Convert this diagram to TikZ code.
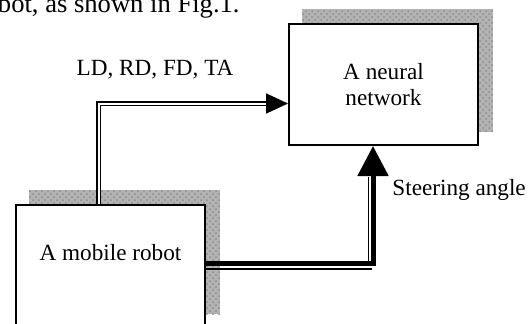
\documentclass[tikz,border=0pt]{standalone}
\usepackage{fontspec}
\setmainfont{Liberation Serif}
\usetikzlibrary{arrows.meta,calc,patterns}
\begin{document}
\begin{tikzpicture}[x=0.5pt,y=-0.5pt,
  box/.style={draw=black,line width=1pt,fill=white,rectangle,inner sep=0pt},
  shadowfill/.style={fill=black!30},
  shadowtex/.style={pattern=crosshatch dots,pattern color=black!45},
  lbl/.style={font=\fontsize{11.6pt}{13pt}\selectfont,inner sep=0pt},
  dblline/.style={draw=black,line width=0.85pt,double=white,double distance=1pt,line join=miter},
  thickline/.style={draw=black,line width=2.5pt,line join=miter},
  thinline/.style={draw=black,line width=0.6pt}]
\useasboundingbox (0,0) rectangle (528,323);
\clip (0,0) rectangle (528,323);
% top text line of the page
\node[font=\fontsize{13.3pt}{15pt}\selectfont,inner sep=0pt,anchor=base east] (pagetext) at (240,12) {robot, as shown in Fig.1.};
% boxes
\node[box,minimum width=94.5pt,minimum height=60.5pt] (nnpos) at (383.5,84.5) {};
\node[box,minimum width=94.5pt,minimum height=61pt] (robotpos) at (110.5,266) {};
% shadows
\fill[shadowfill] ($(nnpos.south west)+(14,-14)$) rectangle ($(nnpos.north east)+(14,-14)$);
\fill[shadowtex] ($(nnpos.south west)+(14,-14)$) rectangle ($(nnpos.north east)+(14,-14)$);
\fill[shadowfill] ($(robotpos.south west)+(14,-14)$) rectangle ($(robotpos.north east)+(14,-14)$);
\fill[shadowtex] ($(robotpos.south west)+(14,-14)$) rectangle ($(robotpos.north east)+(14,-14)$);
% boxes on top of shadows
\node[box,minimum width=94.5pt,minimum height=60.5pt,align=center,font=\fontsize{11.6pt}{13pt}\selectfont] (nn) at (383.5,84.5) {A neural\\network};
\node[box,minimum width=94.5pt,minimum height=61pt] (robot) at (110.5,266) {};
\node[lbl,anchor=base] (robottext) at (110.5,260.5) {A mobile robot};
% input arrow
\coordinate (ldstart) at ($(robot.north west)+(83.5,0)$);
\coordinate (ldend) at ($(nn.north west)+(0,80.5)$);
\draw[dblline,-{Triangle[length=11pt,width=10pt]}] (ldstart) |- (ldend);
\node[lbl,anchor=base] (ldlabel) at (155,75) {LD, RD, FD, TA};
% steering arrow
\coordinate (ststart) at ($(robot.north east)+(0,59.5)$);
\coordinate (stend) at ($(nn.south west)+(85,0)$);
\draw[thickline,-{Triangle[length=15pt,width=15pt]}] (ststart) -| (stend);
\coordinate (thinh1) at ($(robot.north east)+(0,65)$);
\coordinate (thinh2) at ($(nn.south west)+(84,120)$);
\draw[thinline] (thinh1) -- (thinh2 |- thinh1);
\coordinate (thinv1) at ($(nn.south west)+(80.5,117)$);
\coordinate (thinv2) at ($(nn.south west)+(80.5,31)$);
\draw[thinline] (thinv1) -- (thinv2);
\node[lbl,anchor=base west] (stlabel) at (392,195) {Steering angle};
\end{tikzpicture}
\end{document}
